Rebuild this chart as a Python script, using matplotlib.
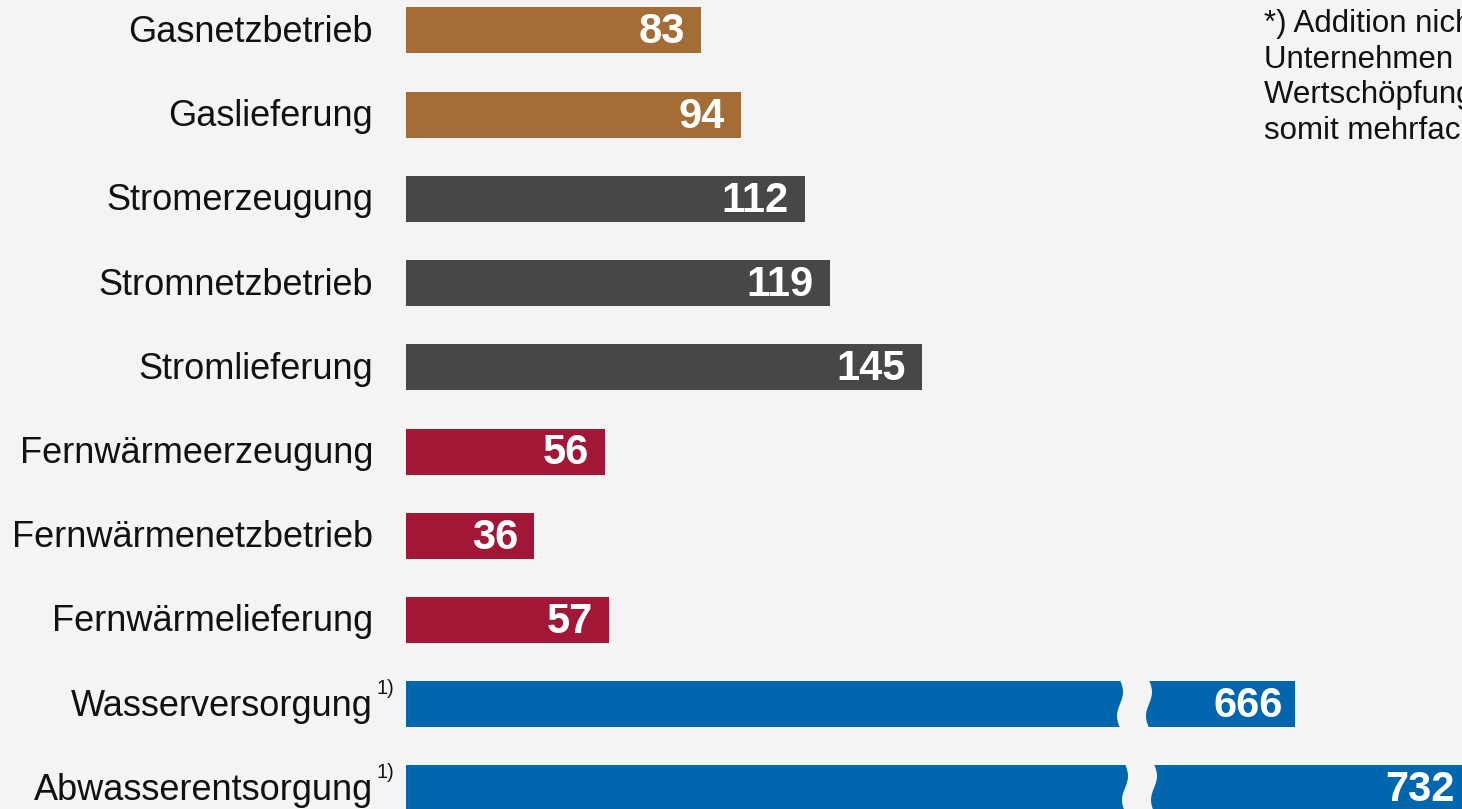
import numpy as np
import matplotlib.pyplot as plt
from matplotlib.patches import Polygon

plt.rcParams["font.family"] = ["Liberation Sans", "DejaVu Sans"]

BG = "#f4f4f4"
GAS = "#a36d35"
STROM = "#474747"
FW = "#a21636"
WASSER = "#0066ae"

categories = [
    "Gasnetzbetrieb",
    "Gaslieferung",
    "Stromerzeugung",
    "Stromnetzbetrieb",
    "Stromlieferung",
    "Fernwärmeerzeugung",
    "Fernwärmenetzbetrieb",
    "Fernwärmelieferung",
    "Wasserversorgung",
    "Abwasserentsorgung",
]
values = [83, 94, 112, 119, 145, 56, 36, 57, 666, 732]
colors = [GAS, GAS, STROM, STROM, STROM, FW, FW, FW, WASSER, WASSER]
footnote = [False] * 8 + [True, True]

note_lines = [
    "*) Addition nicht möglich, da",
    "Unternehmen in mehreren",
    "Wertschöpfungsstufen tätig und",
    "somit mehrfach gezählt",
]

W, H = 1462, 809
fig = plt.figure(figsize=(W / 100, H / 100), dpi=100, facecolor=BG)

# broken axis: left part up to the gap, right part for the long bars
split = 1135 / W
ax = fig.add_axes([0, 0, split, 1])
ax2 = fig.add_axes([split, 0, 1 - split, 1])

px_per_unit = 3.56
x0 = 406
ax.set_xlim(-x0 / px_per_unit, (1135 - x0) / px_per_unit)
k2 = (1467 - 1295) / (732 - 666)
ax2.set_xlim(666 - (1295 - 1135) / k2, 732 - (1467 - W) / k2)

n = len(categories)
row_px = 84.2
top_px = 30.5
for a in (ax, ax2):
    a.set_facecolor(BG)
    a.set_ylim((H - top_px) / row_px, -top_px / row_px)
    a.axis("off")

y = np.arange(n)
bar_h = 46 / row_px
ax.barh(y, values, height=bar_h, color=colors, left=0)
ax2.barh(y, values, height=bar_h, color=colors, left=0)

for i, (cat, v) in enumerate(zip(categories, values)):
    ax.annotate(cat, xy=(0, i), xytext=(-33, -2), textcoords="offset pixels",
                ha="right", va="center", fontsize=26, color="#111111",
                annotation_clip=False)
    if footnote[i]:
        ax.annotate("1)", xy=(0, i), xytext=(-29, 6), textcoords="offset pixels",
                    ha="left", va="bottom", fontsize=14.5, color="#111111",
                    annotation_clip=False)
    target = ax2 if v > 300 else ax
    pad = -12 if v > 300 else -16
    target.annotate(str(v), xy=(v, i), xytext=(pad, -2), textcoords="offset pixels",
                    ha="right", va="center", fontsize=30, fontweight="bold",
                    color="white", annotation_clip=False)

fig.text(1264 / W, 1 - 9 / H, "\n".join(note_lines), ha="left", va="top",
         fontsize=22.5, color="#111111", linespacing=1.25)


# wavy break marks over the long bars
def add_break(x_left, gap, y_top, height):
    t = np.linspace(0, 1, 40)
    yy = y_top - 1 + t * (height + 2)
    xl = x_left + 3 * np.sin(2 * np.pi * t)
    xr = xl + gap
    xs = np.concatenate([xl, xr[::-1]])
    ys = np.concatenate([yy, yy[::-1]])
    pts = np.column_stack([xs / W, 1 - ys / H])
    fig.add_artist(Polygon(pts, closed=True, facecolor=BG, edgecolor="none",
                           transform=fig.transFigure, zorder=10))


add_break(1120, 29, 681, 46)
add_break(1125, 29, 765, 46)

fig.savefig("out.png", dpi=100, facecolor=BG)
